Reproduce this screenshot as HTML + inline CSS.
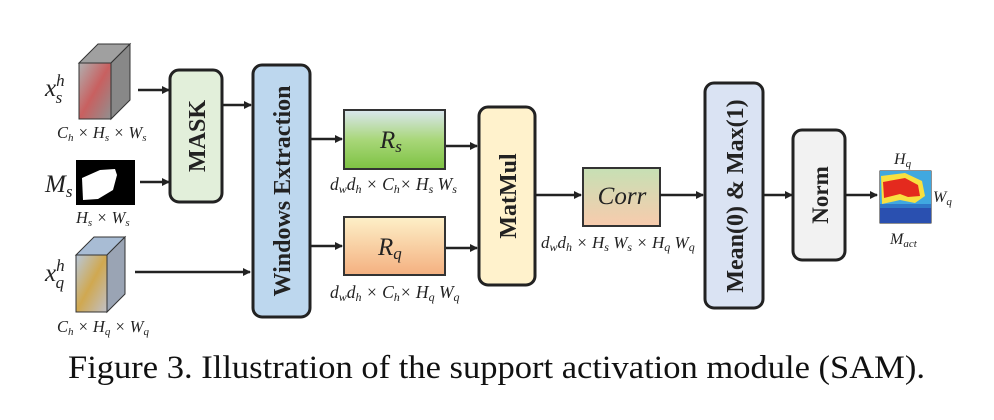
<!DOCTYPE html>
<html><head><meta charset="utf-8"><style>
html,body{margin:0;padding:0;background:#fff;}
svg{display:block;}
.m{font-family:"Liberation Serif",serif;font-style:italic;fill:#222;}
.b{font-family:"Liberation Serif",serif;font-weight:bold;fill:#222;}
</style></head><body>
<svg width="994" height="420" viewBox="0 0 994 420" xmlns="http://www.w3.org/2000/svg">
<defs>
<marker id="ah" markerWidth="8" markerHeight="8" refX="7" refY="4" orient="auto" markerUnits="userSpaceOnUse"><path d="M0,0 L8,4 L0,8 z" fill="#222"/></marker>
<linearGradient id="gRs" x1="0" y1="0" x2="0" y2="1"><stop offset="0" stop-color="#dae6f0"/><stop offset="0.5" stop-color="#a9d77a"/><stop offset="1" stop-color="#7dc242"/></linearGradient>
<linearGradient id="gRq" x1="0" y1="0" x2="0" y2="1"><stop offset="0" stop-color="#fdf0c8"/><stop offset="1" stop-color="#f4b080"/></linearGradient>
<linearGradient id="gC" x1="0" y1="0" x2="0" y2="1"><stop offset="0" stop-color="#c6e0b4"/><stop offset="1" stop-color="#f8cbad"/></linearGradient>
<linearGradient id="gCubeS" x1="0" y1="0" x2="1" y2="1"><stop offset="0" stop-color="#b0b0b0"/><stop offset="0.5" stop-color="#c86060"/><stop offset="1" stop-color="#909090"/></linearGradient>
<linearGradient id="gCubeQ" x1="0" y1="0" x2="1" y2="1"><stop offset="0" stop-color="#b8c8dc"/><stop offset="0.5" stop-color="#d0a850"/><stop offset="1" stop-color="#c0c0c8"/></linearGradient>
</defs>

<g>
<polygon points="79,63 98,44 130,44 111,63" fill="#a0a0a0" stroke="#333" stroke-width="1"/>
<polygon points="111,63 130,44 130,100 111,119" fill="#888" stroke="#333" stroke-width="1"/>
<rect x="79" y="63" width="32" height="56" fill="url(#gCubeS)" stroke="#333" stroke-width="1"/>
</g>
<text class="m" x="45" y="96" font-size="25">x<tspan font-size="17" dy="-10">h</tspan><tspan font-size="17" dx="-9" dy="17">s</tspan></text>
<text class="m" x="57" y="138" font-size="16.5">C<tspan font-size="11" dy="3">h</tspan><tspan dy="-3"> × H</tspan><tspan font-size="11" dy="3">s</tspan><tspan dy="-3"> × W</tspan><tspan font-size="11" dy="3">s</tspan></text>
<line x1="138" y1="90" x2="169" y2="90" stroke="#222" stroke-width="2.5" marker-end="url(#ah)"/>

<text class="m" x="45" y="192" font-size="25">M<tspan font-size="17" dy="5">s</tspan></text>
<g>
<rect x="76" y="160" width="59" height="45" fill="#000"/>
<path d="M82,178 L100,170 L115,169 L117,175 L113,190 L98,199 L83,200 Z" fill="#fff"/>
</g>
<text class="m" x="76" y="223" font-size="16.5">H<tspan font-size="11" dy="3">s</tspan><tspan dy="-3"> × W</tspan><tspan font-size="11" dy="3">s</tspan></text>
<line x1="140" y1="182" x2="169" y2="182" stroke="#222" stroke-width="2.5" marker-end="url(#ah)"/>

<rect x="170" y="70" width="52" height="132" rx="9" fill="#e2efda" stroke="#222" stroke-width="3"/>
<text class="b" transform="translate(205,136) rotate(-90)" text-anchor="middle" font-size="24">MASK</text>
<line x1="222" y1="105" x2="251" y2="105" stroke="#222" stroke-width="2.5" marker-end="url(#ah)"/>

<g>
<polygon points="76,255 94,237 125,237 107,255" fill="#a8bcd4" stroke="#333" stroke-width="1"/>
<polygon points="107,255 125,237 125,294 107,312" fill="#9aa4b4" stroke="#333" stroke-width="1"/>
<rect x="76" y="255" width="31" height="57" fill="url(#gCubeQ)" stroke="#333" stroke-width="1"/>
</g>
<text class="m" x="45" y="281" font-size="25">x<tspan font-size="17" dy="-10">h</tspan><tspan font-size="17" dx="-9" dy="17">q</tspan></text>
<text class="m" x="57" y="332" font-size="16.5">C<tspan font-size="11" dy="3">h</tspan><tspan dy="-3"> × H</tspan><tspan font-size="11" dy="3">q</tspan><tspan dy="-3"> × W</tspan><tspan font-size="11" dy="3">q</tspan></text>
<line x1="135" y1="272" x2="250" y2="272" stroke="#222" stroke-width="2.5" marker-end="url(#ah)"/>

<rect x="253" y="65" width="57" height="252" rx="9" fill="#bdd7ee" stroke="#222" stroke-width="3"/>
<text class="b" transform="translate(290,191) rotate(-90)" text-anchor="middle" font-size="24">Windows Extraction</text>
<line x1="310" y1="139" x2="342" y2="139" stroke="#222" stroke-width="2.5" marker-end="url(#ah)"/>
<line x1="310" y1="246" x2="342" y2="246" stroke="#222" stroke-width="2.5" marker-end="url(#ah)"/>

<rect x="344" y="110" width="101" height="59" fill="url(#gRs)" stroke="#333" stroke-width="2"/>
<text class="m" x="380" y="148" font-size="25">R<tspan font-size="17" dy="4">s</tspan></text>
<text class="m" x="330" y="190" font-size="17.5">d<tspan font-size="12" dy="3">w</tspan><tspan dy="-3">d</tspan><tspan font-size="12" dy="3">h</tspan><tspan dy="-3"> × C</tspan><tspan font-size="12" dy="3">h</tspan><tspan dy="-3">× H</tspan><tspan font-size="12" dy="3">s</tspan><tspan dy="-3"> W</tspan><tspan font-size="12" dy="3">s</tspan></text>

<rect x="344" y="217" width="101" height="58" fill="url(#gRq)" stroke="#333" stroke-width="2"/>
<text class="m" x="378" y="255" font-size="25">R<tspan font-size="17" dy="4">q</tspan></text>
<text class="m" x="330" y="298" font-size="17.5">d<tspan font-size="12" dy="3">w</tspan><tspan dy="-3">d</tspan><tspan font-size="12" dy="3">h</tspan><tspan dy="-3"> × C</tspan><tspan font-size="12" dy="3">h</tspan><tspan dy="-3">× H</tspan><tspan font-size="12" dy="3">q</tspan><tspan dy="-3"> W</tspan><tspan font-size="12" dy="3">q</tspan></text>

<line x1="446" y1="146" x2="477" y2="146" stroke="#222" stroke-width="2.5" marker-end="url(#ah)"/>
<line x1="446" y1="248" x2="477" y2="248" stroke="#222" stroke-width="2.5" marker-end="url(#ah)"/>

<rect x="479" y="107" width="56" height="178" rx="9" fill="#fff2cc" stroke="#222" stroke-width="3"/>
<text class="b" transform="translate(516,196) rotate(-90)" text-anchor="middle" font-size="24">MatMul</text>
<line x1="535" y1="195" x2="581" y2="195" stroke="#222" stroke-width="2.5" marker-end="url(#ah)"/>

<rect x="583" y="168" width="77" height="58" fill="url(#gC)" stroke="#333" stroke-width="2"/>
<text class="m" x="622" y="204" text-anchor="middle" font-size="25">Corr</text>
<text class="m" x="541" y="248" font-size="17">d<tspan font-size="12" dy="3">w</tspan><tspan dy="-3">d</tspan><tspan font-size="12" dy="3">h</tspan><tspan dy="-3"> × H</tspan><tspan font-size="12" dy="3">s</tspan><tspan dy="-3"> W</tspan><tspan font-size="12" dy="3">s</tspan><tspan dy="-3"> × H</tspan><tspan font-size="12" dy="3">q</tspan><tspan dy="-3"> W</tspan><tspan font-size="12" dy="3">q</tspan></text>
<line x1="660" y1="195" x2="703" y2="195" stroke="#222" stroke-width="2.5" marker-end="url(#ah)"/>

<rect x="705" y="83" width="58" height="225" rx="9" fill="#dae3f3" stroke="#222" stroke-width="3"/>
<text class="b" transform="translate(743,196) rotate(-90)" text-anchor="middle" font-size="24">Mean(0) &amp; Max(1)</text>
<line x1="763" y1="195" x2="792" y2="195" stroke="#222" stroke-width="2.5" marker-end="url(#ah)"/>

<rect x="793" y="130" width="52" height="130" rx="9" fill="#f2f2f2" stroke="#222" stroke-width="3"/>
<text class="b" transform="translate(828,195) rotate(-90)" text-anchor="middle" font-size="23">Norm</text>
<line x1="845" y1="195" x2="877" y2="195" stroke="#222" stroke-width="2.5" marker-end="url(#ah)"/>

<g>
<rect x="880" y="171" width="51" height="52" fill="#2a50b0" stroke="#222" stroke-width="1"/>
<rect x="880" y="171" width="51" height="36" fill="#40a8e0"/>
<path d="M881,176 L905,173 L922,181 L925,196 L915,203 L900,200 L882,204 Z" fill="#f8e040"/>
<path d="M883,182 L905,178 L918,185 L920,196 L908,197 L900,194 L884,198 Z" fill="#e42a1e"/>
<rect x="880" y="207" width="51" height="16" fill="#2a50b0"/>
<rect x="880" y="204" width="51" height="4" fill="#3078c8"/>
</g>
<text class="m" x="894" y="164" font-size="16">H<tspan font-size="11" dy="3">q</tspan></text>
<text class="m" x="933" y="202" font-size="16">W<tspan font-size="11" dy="3">q</tspan></text>
<text class="m" x="890" y="244" font-size="16">M<tspan font-size="11" dy="3">act</tspan></text>

<text x="68" y="378" font-family="Liberation Serif, serif" font-size="33" fill="#111" textLength="857" lengthAdjust="spacingAndGlyphs">Figure 3. Illustration of the support activation module (SAM).</text>
</svg>
</body></html>
